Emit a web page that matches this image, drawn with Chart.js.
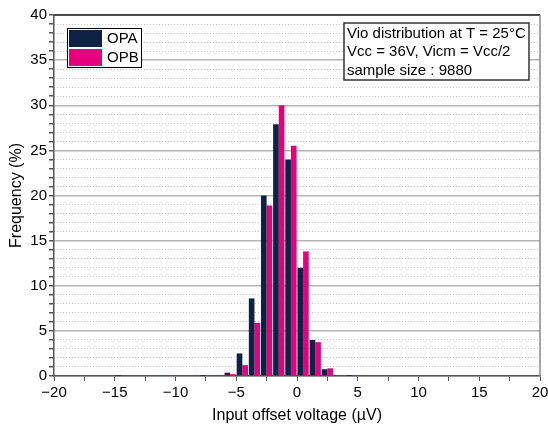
<!DOCTYPE html>
<html lang="en">
<head>
<meta charset="utf-8">
<title>Vio distribution</title>
<style>
  html, body { margin: 0; padding: 0; background: #fff; }
  #wrap { width: 548px; height: 430px; }
</style>
</head>
<body>
<div id="wrap"><canvas id="vioChart" width="548" height="430"></canvas></div>
<script src="https://cdn.jsdelivr.net/npm/chart.js"></script>
<script>
// bin centres (µV) and frequency (%)
const binCenters = [-14.5, -13.5, -12.5, -11.5, -10.5, -9.5, -8.5, -7.5, -6.5, -5.5, -4.5, -3.5, -2.5, -1.5, -0.5, 0.5, 1.5, 2.5, 3.5, 4.5];
const opaFreq    = [0.02, 0, 0, 0, 0, 0, 0, 0.01, 0.1, 0.37, 2.5, 8.6, 20.0, 27.9, 24.0, 12.0, 4.0, 0.75, 0.1, 0.02];
const opbFreq    = [0, 0, 0, 0, 0.02, 0, 0.03, 0, 0.05, 0.2, 1.2, 5.9, 18.9, 30.0, 25.5, 13.8, 3.75, 0.85, 0.1, 0.04];
const seriesNames = ['OPA', 'OPB'];
const infoLines = ['Vio distribution at T = 25°C', 'Vcc = 36V, Vicm = Vcc/2', 'sample size : 9880'];
const xTitle = 'Input offset voltage (µV)';
const yTitle = 'Frequency (%)';

Chart.defaults.font.family = "'Liberation Sans', Arial, sans-serif";
Chart.defaults.color = '#000';

const toPoints = vals => binCenters.map((x, i) => ({ x: x, y: vals[i] }));

// frame, legend and info box drawn over the plot
const boxesPlugin = {
  id: 'boxes',
  afterDatasetsDraw(chart) {
    const ctx = chart.ctx;
    const a = chart.chartArea;
    ctx.save();
    // top and right frame
    ctx.lineWidth = 1.5;
    ctx.strokeStyle = '#222';
    ctx.beginPath(); ctx.moveTo(a.left, a.top); ctx.lineTo(a.right, a.top); ctx.stroke();
    ctx.strokeStyle = '#8a8a8a';
    ctx.beginPath(); ctx.moveTo(a.right, a.top); ctx.lineTo(a.right, a.bottom); ctx.stroke();

    // legend
    ctx.font = "15px 'Liberation Sans', Arial, sans-serif";
    ctx.textBaseline = 'middle';
    ctx.fillStyle = '#fff';
    ctx.fillRect(a.left + 13, a.top + 13, 74, 39);
    ctx.strokeStyle = '#000'; ctx.lineWidth = 1;
    ctx.strokeRect(a.left + 13.5, a.top + 13.5, 74, 39);
    chart.data.datasets.forEach((ds, i) => {
      ctx.fillStyle = ds.backgroundColor;
      ctx.fillRect(a.left + 15, a.top + 15 + i * 19, 33, 17);
      ctx.fillStyle = '#000';
      ctx.fillText(ds.label, a.left + 53, a.top + 24 + i * 19);
    });

    // info box
    const bx = a.right - 196, by = a.top + 8;
    ctx.fillStyle = '#fff';
    ctx.fillRect(bx, by, 185, 57);
    ctx.strokeStyle = '#333'; ctx.lineWidth = 1.5;
    ctx.strokeRect(bx, by, 185, 57);
    ctx.fillStyle = '#000';
    infoLines.forEach((t, i) => ctx.fillText(t, bx + 3, by + 10.5 + i * 18.7));
    ctx.restore();
  }
};

const ctx = document.getElementById('vioChart').getContext('2d');
const vioChart = new Chart(ctx, {
  type: 'bar',
  data: {
    datasets: [{
      label: seriesNames[0],
      data: toPoints(opaFreq),
      backgroundColor: '#0e2246',
      borderWidth: 0,
      categoryPercentage: 0.93,
      barPercentage: 1
    }, {
      label: seriesNames[1],
      data: toPoints(opbFreq),
      backgroundColor: '#e6007e',
      borderWidth: 0,
      categoryPercentage: 0.93,
      barPercentage: 1
    }]
  },
  options: {
    responsive: false,
    animation: false,
    devicePixelRatio: 1,
    layout: { padding: { top: 15, right: 8, left: 0, bottom: 0 } },
    plugins: { legend: { display: false }, tooltip: { enabled: false } },
    scales: {
      x: {
        type: 'linear', min: -20, max: 20, offset: false,
        afterFit: s => { s.height = 54; s.paddingLeft = 0; s.paddingRight = 0; },
        ticks: {
          stepSize: 2.5, autoSkip: false, maxRotation: 0, padding: 3,
          font: { size: 15 },
          callback: v => v % 5 === 0 ? (v < 0 ? '\u2212' + Math.abs(v) : String(v)) : ''
        },
        grid: { drawOnChartArea: false, offset: false, tickLength: 5, tickColor: '#555' },
        border: { color: '#555', width: 1.5 },
        title: { display: true, text: xTitle, font: { size: 16 }, padding: { top: 0, bottom: 5 } }
      },
      y: {
        min: 0, max: 40,
        afterFit: s => { s.width = 54; s.paddingTop = 0; s.paddingBottom = 0; },
        ticks: {
          stepSize: 1, autoSkip: false, padding: 2,
          font: { size: 15 },
          callback: v => v % 5 === 0 ? v : ''
        },
        grid: {
          color: c => c.tick && c.tick.value % 5 === 0 ? '#b4b4b4' : 'rgba(0,0,0,0)',
          lineWidth: 1.5, tickLength: 5, tickColor: '#555'
        },
        border: { color: '#555', width: 1.5 },
        title: { display: true, text: yTitle, font: { size: 16 }, padding: { top: 7, bottom: 0 } }
      },
      // minor dotted grid
      y2: {
        position: 'right', min: 0, max: 40,
        afterFit: s => { s.width = 0; },
        ticks: { display: false, stepSize: 1, autoSkip: false },
        grid: {
          color: c => c.tick && c.tick.value % 5 !== 0 ? '#c8c8c8' : 'rgba(0,0,0,0)',
          lineWidth: 1, drawTicks: false
        },
        border: { display: false, dash: [1, 2] }
      }
    }
  },
  plugins: [boxesPlugin]
});
</script>
</body>
</html>
